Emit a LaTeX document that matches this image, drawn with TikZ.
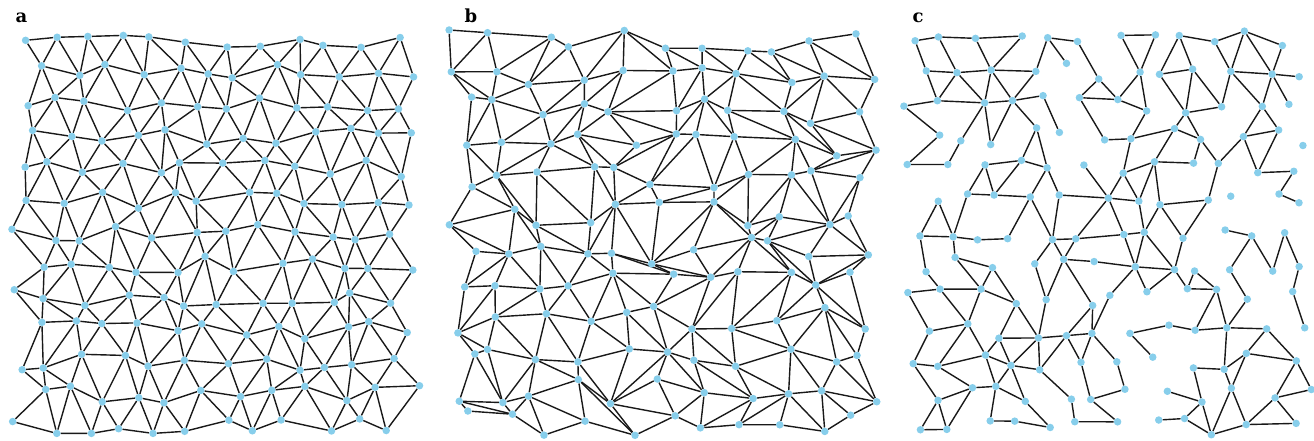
\documentclass[tikz,border=0pt]{standalone}
\usepackage{fontspec}
\setmainfont{DejaVu Serif}
\usetikzlibrary{backgrounds}
\definecolor{skyblue}{HTML}{87CEEB}
\tikzset{
  dot/.style={circle, fill=skyblue, inner sep=0pt, minimum size=7.5pt},
  edge/.style={line width=1.4pt, black!90},
  tag/.style={font=\fontsize{18}{18}\selectfont\bfseries, anchor=base west},
}
\begin{document}
\begin{tikzpicture}[x=1pt, y=-1pt]
  \useasboundingbox (0,0) rectangle (1314,441);
  \pgfmathsetseed{11}
  \node[tag] (la) at (12,23) {a};
  \node[tag] (lb) at (461,23) {b};
  \node[tag] (lc) at (909,23) {c};
  % a: jittered triangular lattice
  \foreach \j in {0,...,12}{
    \foreach \i in {0,...,11}{
      \pgfmathsetmacro\xx{19+34*\i+17*mod(\j,2)+10*rand}
      \pgfmathsetmacro\yy{40+32.2*\j+9*rand}
      \node[dot] (a-\i-\j) at (\xx,\yy) {};
    }
  }
  \begin{scope}[on background layer]
  \foreach \j in {0,...,12}{
    \foreach \i in {0,...,11}{
      \pgfmathtruncatemacro\ip{\i+1}
      \pgfmathtruncatemacro\im{\i-1}
      \pgfmathtruncatemacro\jp{\j+1}
      \ifnum\i<11 \draw[edge] (a-\i-\j) -- (a-\ip-\j); \fi
      \ifnum\j<12
        \draw[edge] (a-\i-\j) -- (a-\i-\jp);
        \ifodd\j
          \ifnum\i<11 \draw[edge] (a-\i-\j) -- (a-\ip-\jp); \fi
        \else
          \ifnum\i>0 \draw[edge] (a-\i-\j) -- (a-\im-\jp); \fi
        \fi
      \fi
    }
  }
  \end{scope}
  % b: jittered square grid, one random diagonal per cell
  \foreach \j in {0,...,11}{
    \foreach \i in {0,...,10}{
      \pgfmathsetmacro\xx{462+40*\i+15*rand}
      \pgfmathsetmacro\yy{40+35*\j+14*rand}
      \node[dot] (b-\i-\j) at (\xx,\yy) {};
    }
  }
  \begin{scope}[on background layer]
  \foreach \j in {0,...,11}{
    \foreach \i in {0,...,10}{
      \pgfmathtruncatemacro\ip{\i+1}
      \pgfmathtruncatemacro\jp{\j+1}
      \pgfmathtruncatemacro\flip{rnd<0.5 ? 1 : 0}
      \ifnum\i<10 \draw[edge] (b-\i-\j) -- (b-\ip-\j); \fi
      \ifnum\j<11 \draw[edge] (b-\i-\j) -- (b-\i-\jp); \fi
      \ifnum\i<10 \ifnum\j<11
        \ifnum\flip=1
          \draw[edge] (b-\i-\j) -- (b-\ip-\jp);
        \else
          \draw[edge] (b-\ip-\j) -- (b-\i-\jp);
        \fi
      \fi \fi
    }
  }
  \end{scope}
  % c: the same kind of lattice, only some edges kept
  \foreach \j in {0,...,12}{
    \foreach \i in {0,...,11}{
      \pgfmathsetmacro\xx{913+34*\i+17*mod(\j,2)+10*rand}
      \pgfmathsetmacro\yy{40+32.2*\j+9*rand}
      \node[dot] (c-\i-\j) at (\xx,\yy) {};
    }
  }
  \begin{scope}[on background layer]
  \foreach \j in {0,...,12}{
    \foreach \i in {0,...,11}{
      \pgfmathtruncatemacro\ip{\i+1}
      \pgfmathtruncatemacro\im{\i-1}
      \pgfmathtruncatemacro\jp{\j+1}
      \pgfmathtruncatemacro\ka{rnd<0.56 ? 1 : 0}
      \pgfmathtruncatemacro\kb{rnd<0.56 ? 1 : 0}
      \pgfmathtruncatemacro\kc{rnd<0.56 ? 1 : 0}
      \ifnum\i<11 \ifnum\ka=1 \draw[edge] (c-\i-\j) -- (c-\ip-\j); \fi \fi
      \ifnum\j<12
        \ifnum\kb=1 \draw[edge] (c-\i-\j) -- (c-\i-\jp); \fi
        \ifnum\kc=1
          \ifodd\j
            \ifnum\i<11 \draw[edge] (c-\i-\j) -- (c-\ip-\jp); \fi
          \else
            \ifnum\i>0 \draw[edge] (c-\i-\j) -- (c-\im-\jp); \fi
          \fi
        \fi
      \fi
    }
  }
  \end{scope}
\end{tikzpicture}
\end{document}
